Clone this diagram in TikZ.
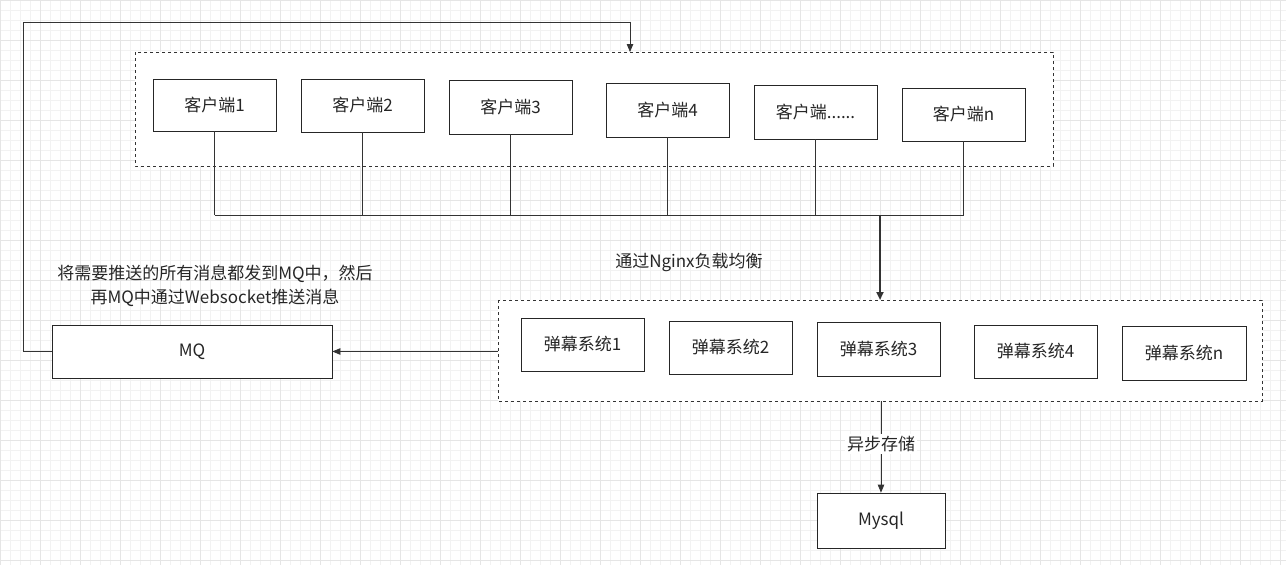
\documentclass[tikz,border=0pt]{standalone}
\usepackage{fontspec}
\setmainfont{Noto Sans CJK SC}
\usetikzlibrary{arrows.meta}
\begin{document}
\begin{tikzpicture}[x=1pt,y=-1pt,
  box/.style={draw=black!85,line width=0.8pt,fill=white,inner sep=0pt,font=\fontsize{17}{20}\selectfont,text=black!85},
  dbox/.style={draw=black!80,dashed,line width=0.8pt,fill=white},
  ln/.style={draw=black!80,line width=0.8pt},
  arr/.style={ln,-{Triangle[length=8pt,width=6.5pt]}},
  txt/.style={font=\fontsize{17}{20}\selectfont,text=black!85,align=center}]
\useasboundingbox (0,0) rectangle (1286,565);
\fill[white] (0,0) rectangle (1286,565);
\foreach \i in {0,10,...,1280} \draw[black!5,line width=0.4pt] (\i,0) -- (\i,565);
\foreach \i in {0,10,...,560} \draw[black!5,line width=0.4pt] (0,\i) -- (1286,\i);
\foreach \i in {0,40,...,1280} \draw[black!10,line width=0.4pt] (\i,0) -- (\i,565);
\foreach \i in {0,40,...,560} \draw[black!10,line width=0.4pt] (0,\i) -- (1286,\i);

\draw[dbox] (135,52) rectangle (1053,166);
\draw[dbox] (498,300) rectangle (1262,401);

\node[box,minimum width=123pt,minimum height=52pt] (c1) at (214.5,105) {客户端1};
\node[box,minimum width=123pt,minimum height=53pt] (c2) at (362.5,105.5) {客户端2};
\node[box,minimum width=123pt,minimum height=54pt] (c3) at (510.5,107) {客户端3};
\node[box,minimum width=123pt,minimum height=54pt] (c4) at (667.5,110) {客户端4};
\node[box,minimum width=123pt,minimum height=54pt] (c5) at (815.5,112) {客户端......};
\node[box,minimum width=123pt,minimum height=53pt] (c6) at (963.5,114.5) {客户端n};

\coordinate (b1) at (214.5,215);
\coordinate (b6) at (963.5,215);
\draw[ln] (b1) -- (b6);
\foreach \c in {c1,c2,c3,c4,c5,c6} \draw[ln] (\c.south) -- (\c.south |- b1);

\node[box,minimum width=123pt,minimum height=53pt] (d1) at (582.5,344.5) {弹幕系统1};
\node[box,minimum width=123pt,minimum height=53pt] (d2) at (730.5,347.5) {弹幕系统2};
\node[box,minimum width=123pt,minimum height=54pt] (d3) at (878.5,349) {弹幕系统3};
\node[box,minimum width=123pt,minimum height=53pt] (d4) at (1035.5,351.5) {弹幕系统4};
\node[box,minimum width=124pt,minimum height=54pt] (d5) at (1184,353) {弹幕系统n};

\coordinate (top2) at (880,300);
\draw[draw=black!80,line width=2pt,-{Triangle[length=8pt,width=7pt]}] (880,215) -- (top2);
\node[txt] (ng) at (689,262) {通过Nginx负载均衡};

\node[box,minimum width=280pt,minimum height=53pt] (mq) at (192,351.5) {MQ};
\coordinate (s2) at (498,351.5);
\draw[arr] (s2) -- (mq.east);

\coordinate (top1) at (630,52);
\draw[arr] (mq.west) -- (23,351.5) -- (23,22) -- (630,22) -- (top1);

\node[txt,font=\fontsize{17}{24}\selectfont] (note) at (215,286) {将需要推送的所有消息都发到MQ中，然后\\再MQ中通过Websocket推送消息};

\node[box,minimum width=128pt,minimum height=55pt] (db) at (881,520.5) {Mysql};
\coordinate (bot2) at (881,401);
\draw[arr] (bot2) -- (db.north);
\node[txt,fill=white,inner sep=2pt] (lab) at (881,444) {异步存储};
\end{tikzpicture}
\end{document}
